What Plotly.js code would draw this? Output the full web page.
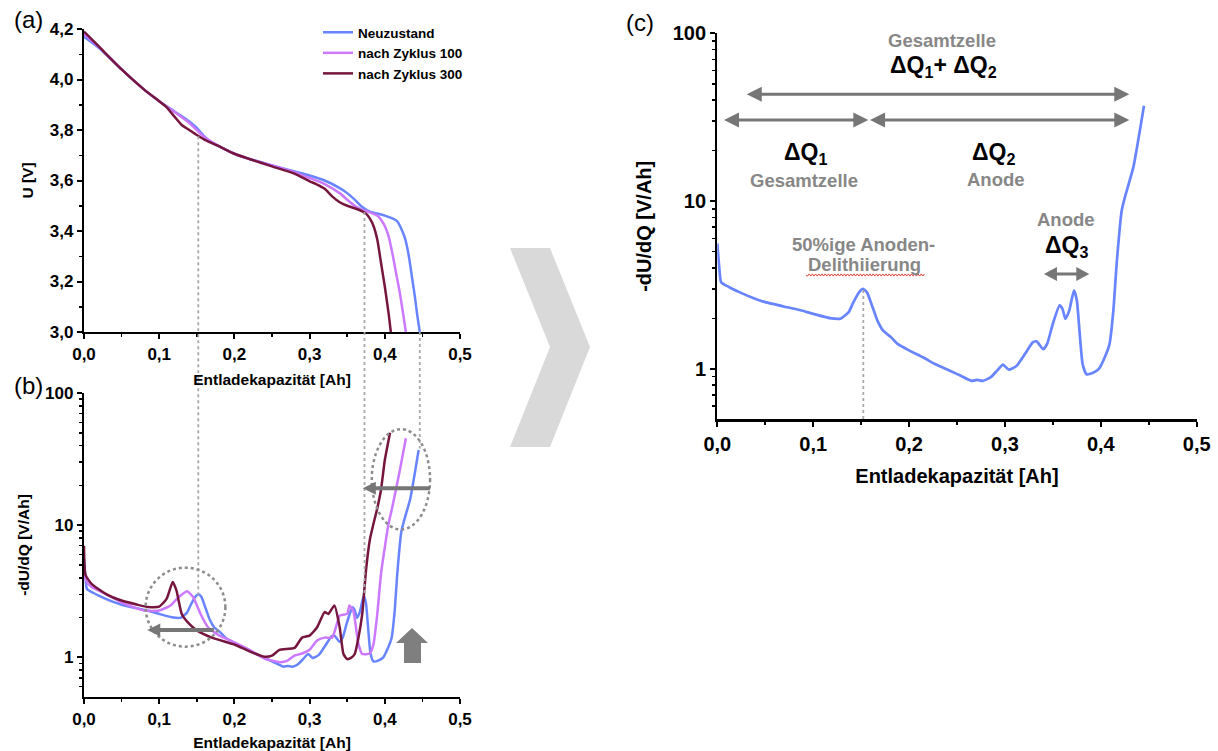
<!DOCTYPE html>
<html><head><meta charset="utf-8">
<script src="https://cdn.plot.ly/plotly-3.0.1.min.js"></script>
<style>html,body{margin:0;padding:0;background:#fff}#chart{width:1218px;height:751px}</style>
</head><body><div id="chart"></div>
<script>
// ---------- data ----------
const seriesNames = ['Neuzustand', 'nach Zyklus 100', 'nach Zyklus 300'];
const seriesColors = ['rgb(104,132,255)', 'rgb(204,120,255)', 'rgb(118,22,62)'];

// (a) discharge voltage U [V] vs capacity [Ah]
const qNeuA = [0, 0.02, 0.05, 0.08, 0.10, 0.12, 0.14, 0.15, 0.16, 0.17, 0.18, 0.20, 0.22, 0.25, 0.28, 0.30, 0.32, 0.34, 0.35, 0.36, 0.37, 0.38, 0.39, 0.40, 0.41, 0.416, 0.421, 0.427, 0.432, 0.436, 0.440, 0.443, 0.4465];
const uNeuA = [4.17, 4.125, 4.04, 3.96, 3.914, 3.874, 3.834, 3.808, 3.775, 3.75, 3.735, 3.706, 3.685, 3.66, 3.636, 3.62, 3.60, 3.57, 3.55, 3.524, 3.495, 3.477, 3.469, 3.461, 3.45, 3.44, 3.415, 3.37, 3.30, 3.22, 3.14, 3.07, 3.0];
const qZ100A = [0, 0.02, 0.05, 0.08, 0.10, 0.12, 0.14, 0.15, 0.16, 0.18, 0.20, 0.22, 0.25, 0.28, 0.30, 0.32, 0.34, 0.35, 0.36, 0.37, 0.38, 0.39, 0.395, 0.40, 0.405, 0.41, 0.415, 0.42, 0.425, 0.428];
const uZ100A = [4.18, 4.128, 4.04, 3.96, 3.914, 3.872, 3.828, 3.80, 3.772, 3.735, 3.706, 3.685, 3.66, 3.632, 3.61, 3.586, 3.55, 3.524, 3.50, 3.484, 3.474, 3.461, 3.445, 3.42, 3.38, 3.313, 3.234, 3.155, 3.06, 3.0];
const qZ300A = [0, 0.02, 0.05, 0.08, 0.10, 0.11, 0.12, 0.13, 0.14, 0.15, 0.16, 0.18, 0.20, 0.22, 0.25, 0.28, 0.30, 0.31, 0.32, 0.33, 0.34, 0.35, 0.36, 0.37, 0.375, 0.38, 0.385, 0.39, 0.395, 0.40, 0.405, 0.408];
const uZ300A = [4.19, 4.13, 4.04, 3.96, 3.914, 3.89, 3.854, 3.82, 3.80, 3.78, 3.762, 3.735, 3.706, 3.685, 3.656, 3.627, 3.597, 3.584, 3.567, 3.537, 3.514, 3.50, 3.49, 3.478, 3.469, 3.45, 3.42, 3.366, 3.273, 3.18, 3.075, 3.0];

// (b)/(c) differential voltage -dU/dQ [V/Ah]
const qNeuB = [0, 0.002, 0.004, 0.012, 0.023, 0.038, 0.05, 0.073, 0.088, 0.10, 0.119, 0.129, 0.137, 0.142, 0.148, 0.152, 0.156, 0.162, 0.167, 0.173, 0.181, 0.188, 0.20, 0.215, 0.227, 0.242, 0.254, 0.265, 0.271, 0.277, 0.285, 0.292, 0.298, 0.304, 0.312, 0.321, 0.329, 0.333, 0.340, 0.344, 0.35, 0.357, 0.36, 0.363, 0.367, 0.372, 0.375, 0.378, 0.381, 0.385, 0.392, 0.398, 0.404, 0.409, 0.413, 0.4166, 0.4218, 0.425, 0.434, 0.445];
const vNeuB = [5.6, 4.05, 3.29, 3.08, 2.87, 2.64, 2.5, 2.33, 2.23, 2.13, 2.0, 2.0, 2.18, 2.5, 2.87, 3.0, 2.87, 2.33, 1.94, 1.69, 1.55, 1.41, 1.29, 1.17, 1.07, 0.98, 0.91, 0.85, 0.86, 0.85, 0.89, 0.98, 1.06, 0.99, 1.04, 1.23, 1.44, 1.46, 1.31, 1.41, 1.86, 2.39, 2.28, 1.99, 2.22, 2.94, 2.56, 1.62, 1.07, 0.93, 0.95, 1.0, 1.17, 1.4, 2.2, 4.3, 8.8, 10.5, 16, 37];
const qZ100B = [0, 0.003, 0.01, 0.03, 0.05, 0.08, 0.10, 0.115, 0.125, 0.137, 0.145, 0.155, 0.165, 0.18, 0.20, 0.22, 0.24, 0.26, 0.27, 0.28, 0.29, 0.30, 0.31, 0.32, 0.33, 0.335, 0.34, 0.35, 0.353, 0.358, 0.365, 0.37, 0.38, 0.385, 0.39, 0.395, 0.40, 0.405, 0.41, 0.42, 0.428];
const vZ100B = [4.6, 3.8, 3.4, 3.0, 2.6, 2.26, 2.26, 2.47, 2.82, 3.16, 2.86, 2.13, 1.69, 1.46, 1.3, 1.14, 0.98, 0.92, 0.94, 1.03, 1.07, 1.14, 1.34, 1.41, 1.41, 1.69, 2.07, 2.13, 2.47, 2.26, 1.26, 1.06, 1.07, 1.26, 2.13, 4.3, 6.8, 10.3, 13.7, 26, 45.5];
const qZ300B = [0, 0.002, 0.01, 0.03, 0.05, 0.07, 0.085, 0.10, 0.11, 0.118, 0.123, 0.13, 0.14, 0.15, 0.17, 0.20, 0.22, 0.24, 0.25, 0.26, 0.28, 0.29, 0.30, 0.31, 0.32, 0.325, 0.333, 0.34, 0.345, 0.35, 0.355, 0.36, 0.365, 0.37, 0.375, 0.38, 0.385, 0.39, 0.395, 0.40, 0.407];
const vZ300B = [7.0, 4.2, 3.6, 3.0, 2.69, 2.51, 2.4, 2.42, 2.78, 3.72, 3.2, 2.13, 1.79, 1.6, 1.41, 1.25, 1.11, 1.01, 1.03, 1.14, 1.18, 1.41, 1.46, 1.69, 2.2, 2.13, 2.47, 1.69, 1.06, 0.97, 0.99, 1.06, 1.41, 2.13, 4.55, 7.7, 10.3, 13.4, 18.6, 31, 50];

const xTitleText = 'Entladekapazität [Ah]';

// ---------- layout helpers ----------
const W = 1218, H = 751;
const px = v => v / W;
const py = v => 1 - v / H;
const domAx = [px(84), px(460)];
const domAy = [py(332), py(29)];
const domBy = [py(697), py(393)];
const domCx = [px(717.3), px(1196.7)];
const domCy = [py(419.3), py(33.3)];
const L10 = Math.log10;
const yPaperA = u => domAy[0] + (u - 3.0) / 1.2 * (domAy[1] - domAy[0]);
const yPaperB = v => domBy[0] + (L10(v) + 0.3) / 2.3 * (domBy[1] - domBy[0]);
const xPaperAB = q => domAx[0] + q / 0.5 * (domAx[1] - domAx[0]);
const xPaperC = q => domCx[0] + q / 0.5 * (domCx[1] - domCx[0]);
const yPaperC = v => domCy[0] + (L10(v) + 0.3) / 2.3 * (domCy[1] - domCy[0]);

const FONT = 'Liberation Sans, Arial, Helvetica, sans-serif';
const GREY_TXT = '#878787';
const ARROW_C = '#767676';

function axis(extra, fs) {
  return Object.assign({
    showline: true, linecolor: '#000', linewidth: 2.2,
    ticks: 'outside', ticklen: 5, tickwidth: 2, tickcolor: '#000',
    showgrid: false, zeroline: false, fixedrange: true,
    tickfont: {family: FONT, size: fs, color: '#000', weight: 'bold'}
  }, extra);
}
function xAx(dom, anchor, fs, tfs, standoff) {
  return axis({domain: dom, anchor: anchor, range: [0, 0.5], dtick: 0.1, tick0: 0, tickformat: '.1f',
    minor: {dtick: 0.05, ticks: 'outside', ticklen: 3, tickwidth: 1.5, tickcolor: '#000'},
    title: {text: xTitleText, font: {family: FONT, size: tfs, color: '#000', weight: 'bold'}, standoff: standoff}}, fs);
}
function logAx(dom, anchor, fs, tfs, standoff) {
  return axis({domain: dom, anchor: anchor, type: 'log', range: [-0.3, 2], dtick: 1, tick0: 0,
    minor: {dtick: 'D1', ticks: 'outside', ticklen: 3, tickwidth: 1.5, tickcolor: '#000'},
    title: {text: '-dU/dQ [V/Ah]', font: {family: FONT, size: tfs, color: '#000', weight: 'bold'}, standoff: standoff}}, fs);
}

// ---------- traces ----------
const qA = [qNeuA, qZ100A, qZ300A], uA = [uNeuA, uZ100A, uZ300A];
const qB = [qNeuB, qZ100B, qZ300B], vB = [vNeuB, vZ100B, vZ300B];
const traces = [];
for (let i = 0; i < 3; i++) {
  traces.push({x: qA[i], y: uA[i], xaxis: 'x', yaxis: 'y', type: 'scatter', mode: 'lines', name: seriesNames[i],
    line: {color: seriesColors[i], width: 2.5, shape: 'spline', smoothing: 0.6}, showlegend: true});
}
for (let i = 0; i < 3; i++) {
  traces.push({x: qB[i], y: vB[i], xaxis: 'x2', yaxis: 'y2', type: 'scatter', mode: 'lines', name: seriesNames[i],
    line: {color: seriesColors[i], width: 2.5, shape: 'spline', smoothing: 0.5}, showlegend: false});
}
traces.push({x: qNeuB, y: vNeuB, xaxis: 'x3', yaxis: 'y3', type: 'scatter', mode: 'lines', name: seriesNames[0],
  line: {color: seriesColors[0], width: 2.7, shape: 'spline', smoothing: 0.5}, showlegend: false});

// ---------- decorations ----------
const f5 = v => v.toFixed(5);
function pathPx(pts) {
  return pts.map((p, i) => (i ? 'L' : 'M') + f5(px(p[0])) + ',' + f5(py(p[1]))).join(' ') + ' Z';
}
function wavy(x0, x1, y, amp, per) {
  let s = 'M' + f5(px(x0)) + ',' + f5(py(y));
  let k = 0;
  for (let x = x0 + per / 2; x <= x1; x += per / 2) {
    k++;
    s += ' L' + f5(px(x)) + ',' + f5(py(y + (k % 2 ? amp : -amp)));
  }
  return s;
}
// horizontal arrow in paper coords; heads sized in pixels
function hArrow(xa, xb, yp, headStart, headEnd, w, hl, hh) {
  const hx = hl / W, hy = hh / H;
  const out = [];
  const x0 = headStart ? xa + hx * 0.8 : xa, x1 = headEnd ? xb - hx * 0.8 : xb;
  out.push({type: 'line', xref: 'paper', yref: 'paper', x0: x0, x1: x1, y0: yp, y1: yp, line: {color: ARROW_C, width: w}});
  if (headStart) out.push({type: 'path', xref: 'paper', yref: 'paper', fillcolor: ARROW_C, line: {width: 0},
    path: 'M' + f5(xa) + ',' + f5(yp) + ' L' + f5(xa + hx) + ',' + f5(yp + hy) + ' L' + f5(xa + hx) + ',' + f5(yp - hy) + ' Z'});
  if (headEnd) out.push({type: 'path', xref: 'paper', yref: 'paper', fillcolor: ARROW_C, line: {width: 0},
    path: 'M' + f5(xb) + ',' + f5(yp) + ' L' + f5(xb - hx) + ',' + f5(yp + hy) + ' L' + f5(xb - hx) + ',' + f5(yp - hy) + ' Z'});
  return out;
}

const dotLine = {color: '#a8a8a8', width: 1.8, dash: 'dot'};
let shapes = [
  // vertical guide lines crossing (a) and (b)
  {type: 'line', xref: 'x', yref: 'paper', x0: 0.152, x1: 0.152, y0: yPaperA(3.775), y1: yPaperB(2.97), line: dotLine},
  {type: 'line', xref: 'x', yref: 'paper', x0: 0.373, x1: 0.373, y0: yPaperA(3.475), y1: yPaperB(2.94), line: dotLine},
  {type: 'line', xref: 'x', yref: 'paper', x0: 0.4465, x1: 0.4465, y0: yPaperA(3.0), y1: yPaperB(38), line: dotLine},
  // (c) guide line
  {type: 'line', xref: 'x3', yref: 'y3', x0: 0.1523, x1: 0.1523, y0: 2.95, y1: 0.5, line: dotLine},
  // dotted ellipses in (b)
  {type: 'circle', xref: 'x2', yref: 'y2', x0: 0.0819, x1: 0.188, y0: 1.205, y1: 4.77, line: {color: '#8c8c8c', width: 2.5, dash: 'dot'}},
  {type: 'circle', xref: 'x2', yref: 'y2', x0: 0.3827, x1: 0.4602, y0: 9.27, y1: 53.3, line: {color: '#8c8c8c', width: 2.5, dash: 'dot'}},
  // up block arrow in (b)
  {type: 'path', xref: 'paper', yref: 'paper', path: pathPx([[412, 628], [428, 643], [421, 643], [421, 663], [404, 663], [404, 643], [396, 643]]),
    fillcolor: '#7f7f7f', line: {width: 0}},
  // big chevron between panels
  {type: 'path', xref: 'paper', yref: 'paper', path: pathPx([[510, 248], [550, 248], [590, 347], [550, 447], [510, 447], [550, 347]]),
    fillcolor: '#d9d9d9', line: {width: 0}},
  // red spell-check underline
  {type: 'path', xref: 'paper', yref: 'paper', path: wavy(806, 925, 275, 1.1, 3.2), line: {color: '#e0403a', width: 1}}
];
// (b) arrows (pointing left)
shapes = shapes.concat(hArrow(xPaperAB(0.0841), xPaperAB(0.1726), yPaperB(1.61), true, false, 4, 13, 6.5));
shapes = shapes.concat(hArrow(xPaperAB(0.3708), xPaperAB(0.4602), yPaperB(19.0), true, false, 4, 13, 6.5));
// (c) double arrows
shapes = shapes.concat(hArrow(xPaperC(0.0307), xPaperC(0.4297), yPaperC(43.3), true, true, 3, 15, 7.5));
shapes = shapes.concat(hArrow(xPaperC(0.0070), xPaperC(0.1575), yPaperC(30.4), true, true, 3, 15, 7.5));
shapes = shapes.concat(hArrow(xPaperC(0.1593), xPaperC(0.4297), yPaperC(30.4), true, true, 3, 15, 7.5));
shapes = shapes.concat(hArrow(xPaperC(0.3407), xPaperC(0.3880), yPaperC(3.68), true, true, 3, 13, 7));

function txt(x, v, text, size, color) {
  return {xref: 'x3', yref: 'y3', x: x, y: L10(v), text: text, showarrow: false,
    xanchor: 'center', yanchor: 'middle',
    font: {family: FONT, size: size, color: color, weight: 'bold'}};
}
function panelLabel(x, y, t) {
  return {xref: 'paper', yref: 'paper', x: px(x), y: py(y), text: t, showarrow: false,
    xanchor: 'center', yanchor: 'middle',
    font: {family: FONT, size: 24, color: '#000'}};
}

const annotations = [
  panelLabel(28, 20, '(a)'), panelLabel(28, 385, '(b)'), panelLabel(640, 22, '(c)'),
  txt(0.2346, 90.3, 'Gesamtzelle', 18.5, GREY_TXT),
  txt(0.2360, 63.0, 'ΔQ<sub>1</sub>+ ΔQ<sub>2</sub>', 23, '#000'),
  txt(0.0920, 19.3, 'ΔQ<sub>1</sub>', 23, '#000'),
  txt(0.0902, 13.2, 'Gesamtzelle', 18.5, GREY_TXT),
  txt(0.2877, 19.3, 'ΔQ<sub>2</sub>', 23, '#000'),
  txt(0.2904, 13.4, 'Anode', 18.5, GREY_TXT),
  txt(0.3637, 7.8, 'Anode', 18.5, GREY_TXT),
  txt(0.3637, 5.35, 'ΔQ<sub>3</sub>', 23, '#000'),
  txt(0.1527, 5.55, '50%ige Anoden-', 18.5, GREY_TXT),
  txt(0.1530, 4.17, 'Delithiierung', 18.5, GREY_TXT)
];

const layout = {
  width: W, height: H, margin: {l: 0, r: 0, t: 0, b: 0},
  paper_bgcolor: '#fff', plot_bgcolor: 'rgba(0,0,0,0)',
  separators: ',.', hovermode: false,
  font: {family: FONT, color: '#000'},
  xaxis: xAx(domAx, 'y', 17, 15.5, 12),
  yaxis: axis({domain: domAy, anchor: 'x', range: [3.0, 4.2], dtick: 0.2, tick0: 3.0, tickformat: '.1f',
    minor: {dtick: 0.1, ticks: 'outside', ticklen: 3, tickwidth: 1.5, tickcolor: '#000'},
    title: {text: 'U [V]', font: {family: FONT, size: 15.5, color: '#000', weight: 'bold'}, standoff: 12}}, 17),
  xaxis2: xAx(domAx, 'y2', 17, 15.5, 10),
  yaxis2: logAx(domBy, 'x2', 17, 15.5, 12),
  xaxis3: xAx(domCx, 'y3', 20, 20, 16),
  yaxis3: logAx(domCy, 'x3', 20, 20, 16),
  showlegend: true,
  legend: {x: px(318), xanchor: 'left', y: py(17), yanchor: 'top', bgcolor: 'rgba(0,0,0,0)',
    font: {family: FONT, size: 13.5, color: '#000', weight: 'bold'}, tracegroupgap: 0, itemwidth: 30},
  shapes: shapes, annotations: annotations
};

Plotly.newPlot('chart', traces, layout, {staticPlot: true, displayModeBar: false});
</script>
</body></html>
